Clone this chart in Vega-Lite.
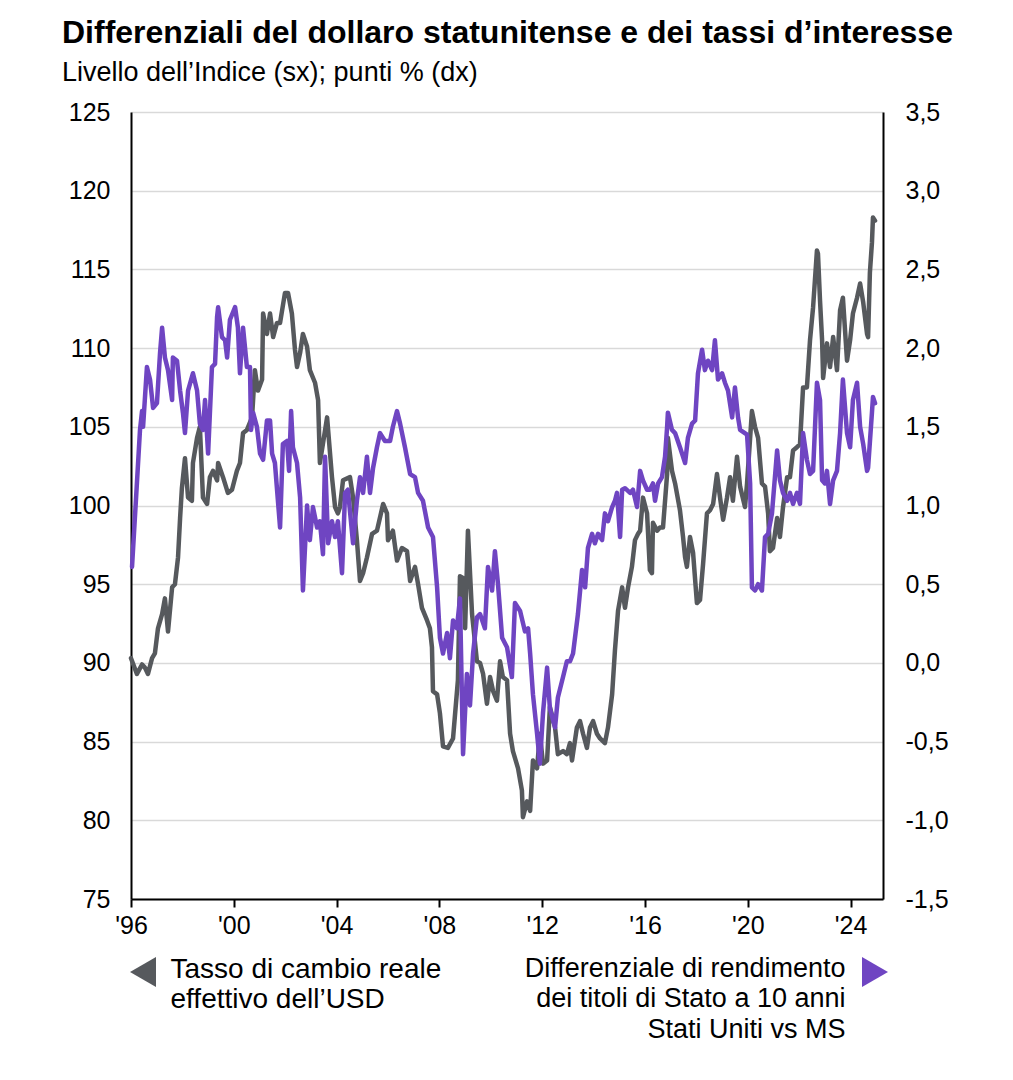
{
  "$schema": "https://vega.github.io/schema/vega-lite/v6.json",
  "width": 752,
  "height": 787,
  "autosize": {"type": "none"},
  "padding": {"left": 131, "top": 112, "right": 130, "bottom": 181},
  "background": "white",
  "title": {
    "text": "Differenziali del dollaro statunitense e dei tassi d’interesse",
    "subtitle": "Livello dell’Indice (sx); punti % (dx)",
    "anchor": "start",
    "frame": "group",
    "dx": -69,
    "offset": 13,
    "font": "Liberation Sans",
    "fontSize": 32,
    "fontWeight": "bold",
    "color": "#000000",
    "subtitleFont": "Liberation Sans",
    "subtitleFontSize": 27,
    "subtitleColor": "#000000",
    "subtitlePadding": 10
  },
  "datasets": {
    "usd": [
      {"d":1996.00,"v":90.3},{"d":1996.23,"v":89.3},{"d":1996.43,"v":89.9},{"d":1996.54,"v":89.7},{"d":1996.66,"v":89.3},{"d":1996.82,"v":90.3},{"d":1996.93,"v":90.6},{"d":1997.05,"v":92.2},{"d":1997.21,"v":93.1},{"d":1997.32,"v":94.1},{"d":1997.44,"v":92.0},{"d":1997.60,"v":94.8},{"d":1997.71,"v":95.0},{"d":1997.83,"v":96.7},{"d":1997.91,"v":99.2},{"d":1997.98,"v":101.1},{"d":1998.10,"v":103.0},{"d":1998.22,"v":100.5},{"d":1998.37,"v":100.3},{"d":1998.41,"v":102.7},{"d":1998.57,"v":104.3},{"d":1998.68,"v":105.0},{"d":1998.80,"v":100.5},{"d":1998.96,"v":100.1},{"d":1999.07,"v":101.8},{"d":1999.19,"v":102.2},{"d":1999.35,"v":101.6},{"d":1999.39,"v":102.7},{"d":1999.58,"v":101.8},{"d":1999.77,"v":100.8},{"d":1999.93,"v":101.0},{"d":2000.12,"v":102.2},{"d":2000.24,"v":102.7},{"d":2000.36,"v":104.6},{"d":2000.51,"v":104.8},{"d":2000.71,"v":105.6},{"d":2000.82,"v":108.6},{"d":2000.94,"v":107.3},{"d":2001.10,"v":108.0},{"d":2001.14,"v":112.2},{"d":2001.29,"v":110.9},{"d":2001.41,"v":112.2},{"d":2001.53,"v":110.7},{"d":2001.68,"v":111.6},{"d":2001.80,"v":111.6},{"d":2001.99,"v":113.5},{"d":2002.11,"v":113.5},{"d":2002.26,"v":112.2},{"d":2002.38,"v":109.9},{"d":2002.46,"v":108.8},{"d":2002.58,"v":109.7},{"d":2002.69,"v":110.9},{"d":2002.85,"v":110.1},{"d":2002.96,"v":108.6},{"d":2003.16,"v":107.8},{"d":2003.28,"v":106.7},{"d":2003.35,"v":102.7},{"d":2003.63,"v":105.6},{"d":2003.82,"v":101.8},{"d":2003.94,"v":99.9},{"d":2004.05,"v":99.5},{"d":2004.13,"v":99.9},{"d":2004.25,"v":101.6},{"d":2004.52,"v":101.8},{"d":2004.64,"v":100.5},{"d":2004.79,"v":97.8},{"d":2004.91,"v":95.2},{"d":2005.03,"v":95.7},{"d":2005.18,"v":96.7},{"d":2005.38,"v":98.2},{"d":2005.57,"v":98.4},{"d":2005.81,"v":100.1},{"d":2005.96,"v":99.5},{"d":2006.00,"v":97.8},{"d":2006.19,"v":98.4},{"d":2006.35,"v":96.5},{"d":2006.54,"v":97.3},{"d":2006.74,"v":97.1},{"d":2006.86,"v":95.2},{"d":2007.05,"v":96.1},{"d":2007.17,"v":95.0},{"d":2007.32,"v":93.5},{"d":2007.52,"v":92.7},{"d":2007.63,"v":92.2},{"d":2007.71,"v":91.0},{"d":2007.75,"v":88.2},{"d":2007.91,"v":88.0},{"d":2008.02,"v":86.8},{"d":2008.14,"v":84.7},{"d":2008.33,"v":84.6},{"d":2008.53,"v":85.2},{"d":2008.72,"v":88.9},{"d":2008.80,"v":95.5},{"d":2008.92,"v":95.4},{"d":2009.00,"v":92.2},{"d":2009.11,"v":98.4},{"d":2009.27,"v":93.1},{"d":2009.46,"v":90.1},{"d":2009.58,"v":90.0},{"d":2009.70,"v":89.3},{"d":2009.85,"v":87.4},{"d":2009.97,"v":89.1},{"d":2010.09,"v":88.2},{"d":2010.24,"v":87.6},{"d":2010.36,"v":90.1},{"d":2010.47,"v":89.1},{"d":2010.63,"v":88.9},{"d":2010.75,"v":85.5},{"d":2010.86,"v":84.4},{"d":2011.06,"v":83.3},{"d":2011.21,"v":81.9},{"d":2011.25,"v":80.2},{"d":2011.41,"v":81.2},{"d":2011.53,"v":80.6},{"d":2011.64,"v":83.8},{"d":2011.80,"v":83.3},{"d":2011.91,"v":85.5},{"d":2012.03,"v":83.6},{"d":2012.19,"v":83.8},{"d":2012.30,"v":87.2},{"d":2012.50,"v":85.9},{"d":2012.61,"v":84.2},{"d":2012.81,"v":84.4},{"d":2012.96,"v":84.2},{"d":2013.08,"v":84.9},{"d":2013.16,"v":83.8},{"d":2013.35,"v":85.9},{"d":2013.47,"v":86.3},{"d":2013.59,"v":85.5},{"d":2013.74,"v":84.6},{"d":2013.86,"v":85.9},{"d":2013.98,"v":86.3},{"d":2014.13,"v":85.5},{"d":2014.25,"v":85.2},{"d":2014.44,"v":84.9},{"d":2014.56,"v":85.9},{"d":2014.72,"v":88.0},{"d":2014.83,"v":90.8},{"d":2014.95,"v":93.3},{"d":2015.11,"v":94.8},{"d":2015.22,"v":93.5},{"d":2015.34,"v":94.8},{"d":2015.49,"v":96.1},{"d":2015.61,"v":97.8},{"d":2015.73,"v":98.2},{"d":2015.81,"v":98.4},{"d":2015.92,"v":100.5},{"d":2016.08,"v":99.5},{"d":2016.19,"v":95.9},{"d":2016.27,"v":95.7},{"d":2016.31,"v":98.9},{"d":2016.47,"v":98.4},{"d":2016.58,"v":98.6},{"d":2016.70,"v":98.6},{"d":2016.86,"v":102.0},{"d":2016.89,"v":104.3},{"d":2017.05,"v":102.2},{"d":2017.17,"v":101.4},{"d":2017.36,"v":99.7},{"d":2017.48,"v":98.0},{"d":2017.56,"v":96.7},{"d":2017.63,"v":96.1},{"d":2017.75,"v":98.0},{"d":2017.87,"v":97.0},{"d":2018.02,"v":93.8},{"d":2018.14,"v":94.0},{"d":2018.26,"v":96.3},{"d":2018.41,"v":99.5},{"d":2018.53,"v":99.7},{"d":2018.65,"v":100.1},{"d":2018.80,"v":102.0},{"d":2018.92,"v":100.5},{"d":2019.04,"v":99.1},{"d":2019.19,"v":100.5},{"d":2019.31,"v":101.8},{"d":2019.42,"v":100.3},{"d":2019.58,"v":103.1},{"d":2019.70,"v":101.2},{"d":2019.89,"v":99.9},{"d":2019.97,"v":101.4},{"d":2020.16,"v":106.0},{"d":2020.28,"v":105.0},{"d":2020.40,"v":104.3},{"d":2020.55,"v":101.4},{"d":2020.67,"v":101.2},{"d":2020.79,"v":99.5},{"d":2020.86,"v":97.1},{"d":2020.98,"v":97.3},{"d":2021.14,"v":99.2},{"d":2021.25,"v":98.0},{"d":2021.37,"v":99.9},{"d":2021.53,"v":101.8},{"d":2021.64,"v":101.8},{"d":2021.76,"v":103.5},{"d":2021.91,"v":103.7},{"d":2022.03,"v":103.9},{"d":2022.15,"v":107.5},{"d":2022.30,"v":107.5},{"d":2022.42,"v":110.5},{"d":2022.54,"v":112.6},{"d":2022.69,"v":116.2},{"d":2022.73,"v":116.0},{"d":2022.81,"v":113.0},{"d":2022.89,"v":110.5},{"d":2022.93,"v":108.1},{"d":2023.08,"v":110.3},{"d":2023.20,"v":108.8},{"d":2023.32,"v":110.7},{"d":2023.47,"v":108.6},{"d":2023.59,"v":112.4},{"d":2023.70,"v":113.2},{"d":2023.86,"v":109.2},{"d":2023.98,"v":110.5},{"d":2024.09,"v":112.2},{"d":2024.25,"v":113.2},{"d":2024.37,"v":114.1},{"d":2024.49,"v":112.9},{"d":2024.64,"v":110.9},{"d":2024.68,"v":110.7},{"d":2024.75,"v":114.8},{"d":2024.83,"v":116.7},{"d":2024.87,"v":118.3},{"d":2024.95,"v":118.1}
    ],
    "diff": [
      {"d":1996.04,"v":0.61},{"d":1996.19,"v":1.03},{"d":1996.35,"v":1.48},{"d":1996.43,"v":1.60},{"d":1996.47,"v":1.50},{"d":1996.62,"v":1.88},{"d":1996.74,"v":1.80},{"d":1996.86,"v":1.62},{"d":1997.01,"v":1.65},{"d":1997.13,"v":1.97},{"d":1997.21,"v":2.13},{"d":1997.32,"v":1.94},{"d":1997.44,"v":1.86},{"d":1997.60,"v":1.67},{"d":1997.63,"v":1.94},{"d":1997.79,"v":1.92},{"d":1997.91,"v":1.73},{"d":1998.02,"v":1.59},{"d":1998.10,"v":1.46},{"d":1998.22,"v":1.73},{"d":1998.41,"v":1.84},{"d":1998.57,"v":1.73},{"d":1998.68,"v":1.52},{"d":1998.80,"v":1.48},{"d":1998.88,"v":1.67},{"d":1999.00,"v":1.33},{"d":1999.15,"v":1.88},{"d":1999.27,"v":1.90},{"d":1999.35,"v":2.20},{"d":1999.39,"v":2.26},{"d":1999.54,"v":2.07},{"d":1999.66,"v":2.05},{"d":1999.74,"v":1.94},{"d":1999.85,"v":2.18},{"d":2000.05,"v":2.26},{"d":2000.16,"v":2.13},{"d":2000.24,"v":1.84},{"d":2000.36,"v":2.13},{"d":2000.51,"v":1.88},{"d":2000.63,"v":1.88},{"d":2000.67,"v":1.48},{"d":2000.75,"v":1.59},{"d":2000.90,"v":1.50},{"d":2001.02,"v":1.33},{"d":2001.14,"v":1.29},{"d":2001.29,"v":1.54},{"d":2001.41,"v":1.54},{"d":2001.49,"v":1.33},{"d":2001.60,"v":1.27},{"d":2001.80,"v":0.86},{"d":2001.91,"v":1.39},{"d":2002.07,"v":1.41},{"d":2002.15,"v":1.22},{"d":2002.23,"v":1.60},{"d":2002.30,"v":1.37},{"d":2002.46,"v":1.27},{"d":2002.58,"v":1.05},{"d":2002.69,"v":0.46},{"d":2002.85,"v":1.00},{"d":2002.96,"v":0.78},{"d":2003.08,"v":0.99},{"d":2003.24,"v":0.86},{"d":2003.35,"v":0.90},{"d":2003.47,"v":0.69},{"d":2003.55,"v":1.31},{"d":2003.67,"v":0.76},{"d":2003.82,"v":0.90},{"d":2003.94,"v":0.80},{"d":2004.05,"v":0.90},{"d":2004.21,"v":0.57},{"d":2004.33,"v":1.08},{"d":2004.44,"v":1.10},{"d":2004.64,"v":0.76},{"d":2004.79,"v":1.03},{"d":2004.91,"v":1.18},{"d":2005.03,"v":1.08},{"d":2005.18,"v":1.31},{"d":2005.30,"v":1.08},{"d":2005.42,"v":1.24},{"d":2005.57,"v":1.37},{"d":2005.69,"v":1.46},{"d":2005.88,"v":1.41},{"d":2006.08,"v":1.41},{"d":2006.19,"v":1.50},{"d":2006.35,"v":1.60},{"d":2006.47,"v":1.52},{"d":2006.66,"v":1.37},{"d":2006.86,"v":1.20},{"d":2007.05,"v":1.18},{"d":2007.17,"v":1.08},{"d":2007.36,"v":1.03},{"d":2007.56,"v":0.86},{"d":2007.75,"v":0.80},{"d":2007.91,"v":0.48},{"d":2008.02,"v":0.16},{"d":2008.14,"v":0.06},{"d":2008.30,"v":0.19},{"d":2008.41,"v":0.03},{"d":2008.53,"v":0.27},{"d":2008.68,"v":0.22},{"d":2008.80,"v":0.41},{"d":2008.92,"v":-0.58},{"d":2009.07,"v":-0.07},{"d":2009.19,"v":-0.27},{"d":2009.31,"v":0.06},{"d":2009.46,"v":0.29},{"d":2009.58,"v":0.31},{"d":2009.77,"v":0.22},{"d":2009.89,"v":0.61},{"d":2010.05,"v":0.46},{"d":2010.16,"v":0.71},{"d":2010.28,"v":0.50},{"d":2010.44,"v":0.16},{"d":2010.63,"v":0.10},{"d":2010.82,"v":-0.09},{"d":2010.94,"v":0.38},{"d":2011.14,"v":0.33},{"d":2011.33,"v":0.20},{"d":2011.45,"v":0.22},{"d":2011.53,"v":0.06},{"d":2011.64,"v":-0.20},{"d":2011.80,"v":-0.45},{"d":2011.91,"v":-0.64},{"d":2012.03,"v":-0.32},{"d":2012.19,"v":-0.03},{"d":2012.30,"v":-0.29},{"d":2012.50,"v":-0.41},{"d":2012.61,"v":-0.22},{"d":2012.81,"v":-0.09},{"d":2012.96,"v":0.01},{"d":2013.08,"v":0.01},{"d":2013.20,"v":0.06},{"d":2013.39,"v":0.31},{"d":2013.55,"v":0.59},{"d":2013.67,"v":0.48},{"d":2013.78,"v":0.73},{"d":2013.94,"v":0.82},{"d":2014.05,"v":0.76},{"d":2014.17,"v":0.82},{"d":2014.33,"v":0.78},{"d":2014.44,"v":0.95},{"d":2014.56,"v":0.90},{"d":2014.72,"v":0.99},{"d":2014.83,"v":1.03},{"d":2014.91,"v":1.08},{"d":2015.03,"v":0.80},{"d":2015.11,"v":1.10},{"d":2015.22,"v":1.11},{"d":2015.42,"v":1.08},{"d":2015.53,"v":1.10},{"d":2015.69,"v":0.99},{"d":2015.81,"v":1.22},{"d":2015.92,"v":1.16},{"d":2016.08,"v":1.10},{"d":2016.19,"v":1.10},{"d":2016.31,"v":1.14},{"d":2016.39,"v":1.03},{"d":2016.51,"v":1.14},{"d":2016.66,"v":1.18},{"d":2016.78,"v":1.31},{"d":2016.86,"v":1.50},{"d":2016.89,"v":1.59},{"d":2017.05,"v":1.48},{"d":2017.17,"v":1.46},{"d":2017.36,"v":1.37},{"d":2017.56,"v":1.27},{"d":2017.67,"v":1.43},{"d":2017.83,"v":1.52},{"d":2017.95,"v":1.54},{"d":2018.06,"v":1.84},{"d":2018.22,"v":1.99},{"d":2018.33,"v":1.86},{"d":2018.45,"v":1.92},{"d":2018.61,"v":1.86},{"d":2018.72,"v":2.05},{"d":2018.84,"v":1.80},{"d":2019.00,"v":1.84},{"d":2019.11,"v":1.78},{"d":2019.23,"v":1.73},{"d":2019.39,"v":1.56},{"d":2019.50,"v":1.75},{"d":2019.62,"v":1.56},{"d":2019.70,"v":1.48},{"d":2019.97,"v":1.45},{"d":2020.09,"v":1.14},{"d":2020.16,"v":0.48},{"d":2020.28,"v":0.46},{"d":2020.40,"v":0.50},{"d":2020.55,"v":0.46},{"d":2020.67,"v":0.80},{"d":2020.79,"v":0.82},{"d":2020.94,"v":0.95},{"d":2021.14,"v":1.35},{"d":2021.25,"v":1.16},{"d":2021.37,"v":1.08},{"d":2021.53,"v":1.03},{"d":2021.64,"v":1.08},{"d":2021.76,"v":1.01},{"d":2021.91,"v":1.08},{"d":2022.03,"v":1.01},{"d":2022.15,"v":1.46},{"d":2022.30,"v":1.29},{"d":2022.42,"v":1.20},{"d":2022.54,"v":1.22},{"d":2022.69,"v":1.78},{"d":2022.81,"v":1.67},{"d":2022.89,"v":1.16},{"d":2023.00,"v":1.14},{"d":2023.08,"v":1.22},{"d":2023.20,"v":1.01},{"d":2023.32,"v":1.16},{"d":2023.47,"v":1.22},{"d":2023.59,"v":1.46},{"d":2023.70,"v":1.80},{"d":2023.86,"v":1.46},{"d":2023.98,"v":1.37},{"d":2024.09,"v":1.67},{"d":2024.25,"v":1.78},{"d":2024.37,"v":1.50},{"d":2024.49,"v":1.39},{"d":2024.64,"v":1.22},{"d":2024.68,"v":1.24},{"d":2024.83,"v":1.59},{"d":2024.87,"v":1.69},{"d":2024.95,"v":1.65}
    ]
  },
  "layer": [
    {
      "data": {"name": "usd"},
      "mark": {"type": "line", "strokeWidth": 4.5, "strokeJoin": "round", "strokeCap": "round"},
      "encoding": {
        "x": {
          "field": "d", "type": "quantitative",
          "scale": {"domain": [1996, 2025.26], "nice": false, "zero": false},
          "axis": {
            "values": [1996, 2000, 2004, 2008, 2012, 2016, 2020, 2024],
            "labelExpr": "\"'\" + slice(toString(datum.value), 2)",
            "labelFlush": false, "labelOverlap": false,
            "title": null, "grid": false,
            "domainColor": "#000000", "domainWidth": 2,
            "tickColor": "#000000", "tickWidth": 2, "tickSize": 8,
            "labelPadding": 6, "labelFontSize": 25, "labelFont": "Liberation Sans", "labelColor": "#000000"
          }
        },
        "y": {
          "field": "v", "type": "quantitative",
          "scale": {"domain": [75, 125], "nice": false, "zero": false},
          "axis": {
            "orient": "left",
            "values": [75, 80, 85, 90, 95, 100, 105, 110, 115, 120, 125],
            "title": ["Tasso di cambio reale", "effettivo dell’USD"],
            "titleAngle": 0, "titleAlign": "left", "titleBaseline": "top",
            "titleX": 39, "titleY": 843,
            "titleFont": "Liberation Sans", "titleFontSize": 28, "titleFontWeight": "normal",
            "titleLineHeight": 30.5, "titleColor": "#000000",
            "grid": true, "gridColor": "#d9d9d9", "gridWidth": 1.5,
            "ticks": false, "tickSize": 0,
            "domainColor": "#000000", "domainWidth": 2,
            "labelPadding": 21, "labelFontSize": 25, "labelFont": "Liberation Sans", "labelColor": "#000000"
          }
        },
        "color": {
          "datum": "usd",
          "scale": {"domain": ["usd"], "range": ["#56595d"]},
          "legend": {
            "orient": "none", "legendX": -3, "legendY": 845, "title": null,
            "symbolType": "triangle-left", "symbolSize": 900,
            "symbolFillColor": "#56595d", "symbolStrokeColor": "#56595d", "symbolStrokeWidth": 0,
            "labelExpr": "''", "labelFontSize": 1
          }
        }
      }
    },
    {
      "data": {"name": "diff"},
      "mark": {"type": "line", "strokeWidth": 4.5, "strokeJoin": "round", "strokeCap": "round"},
      "encoding": {
        "x": {"field": "d", "type": "quantitative"},
        "y": {
          "field": "v", "type": "quantitative",
          "scale": {"domain": [-1.5, 3.5], "nice": false, "zero": false},
          "axis": {
            "orient": "right",
            "values": [-1.5, -1, -0.5, 0, 0.5, 1, 1.5, 2, 2.5, 3, 3.5],
            "labelExpr": "replace(replace(format(datum.value, '.1f'), '.', ','), '\u2212', '-')",
            "title": ["Differenziale di rendimento", "dei titoli di Stato a 10 anni", "Stati Uniti  vs MS"],
            "titleAngle": 0, "titleAlign": "right", "titleBaseline": "top",
            "titleX": -38, "titleY": 843,
            "titleFont": "Liberation Sans", "titleFontSize": 27, "titleFontWeight": "normal",
            "titleLineHeight": 30.5, "titleColor": "#000000",
            "grid": false,
            "ticks": false, "tickSize": 0,
            "domainColor": "#000000", "domainWidth": 2,
            "labelPadding": 22, "labelFontSize": 25, "labelFont": "Liberation Sans", "labelColor": "#000000"
          }
        },
        "color": {
          "datum": "diff",
          "scale": {"domain": ["diff"], "range": ["#6f45c2"]},
          "legend": {
            "orient": "none", "legendX": 729, "legendY": 845, "title": null,
            "symbolType": "triangle-right", "symbolSize": 900,
            "symbolFillColor": "#6f45c2", "symbolStrokeColor": "#6f45c2", "symbolStrokeWidth": 0,
            "labelExpr": "''", "labelFontSize": 1
          }
        }
      }
    }
  ],
  "resolve": {"scale": {"y": "independent", "color": "independent"}},
  "config": {
    "view": {"stroke": null},
    "font": "Liberation Sans"
  }
}
